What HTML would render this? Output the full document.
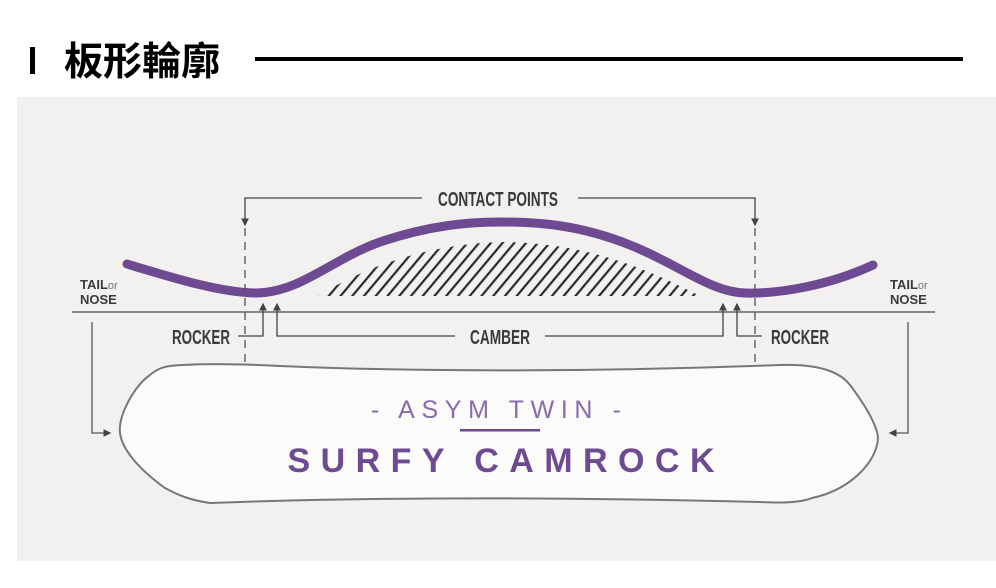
<!DOCTYPE html>
<html><head><meta charset="utf-8"><style>
html,body{margin:0;padding:0;background:#fff;width:996px;height:588px;overflow:hidden}
svg{display:block}
.c{font-family:"Liberation Sans Narrow","Liberation Sans",sans-serif;font-weight:bold;fill:#3a3a3a}
</style></head><body>
<svg width="996" height="588" viewBox="0 0 996 588" xmlns="http://www.w3.org/2000/svg">
<defs>
<pattern id="h" width="9" height="9" patternUnits="userSpaceOnUse" patternTransform="rotate(40)">
<rect x="0" y="0" width="2.2" height="9" fill="#2a2a2a"/>
</pattern>
<clipPath id="cp"><path d="M318 296 C360 270 420 245 500 242 C580 242 640 265 700 296 Z"/></clipPath>
<marker id="a" markerWidth="6" markerHeight="6" refX="5" refY="3" orient="auto"><path d="M0 0 L6 3 L0 6 Z" fill="#444"/></marker>
</defs>
<rect x="30" y="47" width="5" height="27" fill="#000"/>
<text x="64" y="75" font-family="'Noto Sans CJK TC','Noto Sans CJK SC',sans-serif" font-weight="bold" font-size="39" fill="#000">板形輪廓</text>
<rect x="255" y="57" width="708" height="4" fill="#000"/>
<rect x="17" y="97" width="979" height="464" fill="#f2f1ef"/>
<rect x="318" y="240" width="385" height="57" fill="url(#h)" clip-path="url(#cp)"/>
<path d="M127 264 C180 280 220 292 255 293 C300 293 330 260 380 242 C430 225 470 222 500 222 C540 222 580 225 630 245 C680 265 710 292 745 293 C780 294 830 285 873 265" fill="none" stroke="#6e4a92" stroke-width="9" stroke-linecap="round"/>
<line x1="72" y1="312" x2="935" y2="312" stroke="#666" stroke-width="1.5"/>
<line x1="245" y1="228" x2="245" y2="415" stroke="#555" stroke-width="1.3" stroke-dasharray="8,6"/>
<line x1="755" y1="228" x2="755" y2="415" stroke="#555" stroke-width="1.3" stroke-dasharray="8,6"/>
<polyline points="422,198 245,198 245,225" fill="none" stroke="#444" stroke-width="1.3" marker-end="url(#a)"/>
<polyline points="578,198 755,198 755,225" fill="none" stroke="#444" stroke-width="1.3" marker-end="url(#a)"/>
<text class="c" x="498" y="206" font-size="20" text-anchor="middle" textLength="120" lengthAdjust="spacingAndGlyphs">CONTACT POINTS</text>
<polyline points="238,336 263,336 263,304" fill="none" stroke="#444" stroke-width="1.3" marker-end="url(#a)"/>
<polyline points="455,336 277,336 277,304" fill="none" stroke="#444" stroke-width="1.3" marker-end="url(#a)"/>
<polyline points="545,336 723,336 723,304" fill="none" stroke="#444" stroke-width="1.3" marker-end="url(#a)"/>
<polyline points="762,336 737,336 737,304" fill="none" stroke="#444" stroke-width="1.3" marker-end="url(#a)"/>
<text class="c" x="201" y="344" font-size="20" text-anchor="middle" textLength="58" lengthAdjust="spacingAndGlyphs">ROCKER</text>
<text class="c" x="500" y="344" font-size="20" text-anchor="middle" textLength="60" lengthAdjust="spacingAndGlyphs">CAMBER</text>
<text class="c" x="800" y="344" font-size="20" text-anchor="middle" textLength="58" lengthAdjust="spacingAndGlyphs">ROCKER</text>
<text class="c" x="80" y="289" font-size="13">TAIL<tspan font-weight="normal" font-size="11" fill="#777">or</tspan></text>
<text class="c" x="80" y="304" font-size="13">NOSE</text>
<text class="c" x="890" y="289" font-size="13">TAIL<tspan font-weight="normal" font-size="11" fill="#777">or</tspan></text>
<text class="c" x="890" y="304" font-size="13">NOSE</text>
<polyline points="92,322 92,433 110,433" fill="none" stroke="#555" stroke-width="1.3" marker-end="url(#a)"/>
<polyline points="908,322 908,433 890,433" fill="none" stroke="#555" stroke-width="1.3" marker-end="url(#a)"/>
<path d="M170 366 C200 363 240 364 280 366 C420 372 600 372 780 365 C820 364 840 372 850 385 C865 405 877 425 878 438 C877 462 850 490 812 498 C800 503 780 503 760 502 C600 498 400 496 210 503 C190 500 180 496 165 488 C140 470 122 450 120 433 C118 415 135 385 150 375 C157 369 163 367 170 366 Z" fill="#fbfbfa" stroke="#777" stroke-width="2"/>
<text x="496" y="418" font-family="'Liberation Sans Narrow','Liberation Sans',sans-serif" font-size="25" fill="#8a6aaa" text-anchor="middle" textLength="250" lengthAdjust="spacing">- ASYM TWIN -</text>
<rect x="460" y="429" width="80" height="2.5" fill="#6e4a92"/>
<text x="501" y="472" font-family="'Liberation Sans Narrow','Liberation Sans',sans-serif" font-weight="bold" font-size="34" fill="#6e4a92" text-anchor="middle" textLength="427" lengthAdjust="spacing">SURFY CAMROCK</text>
</svg>
</body></html>
